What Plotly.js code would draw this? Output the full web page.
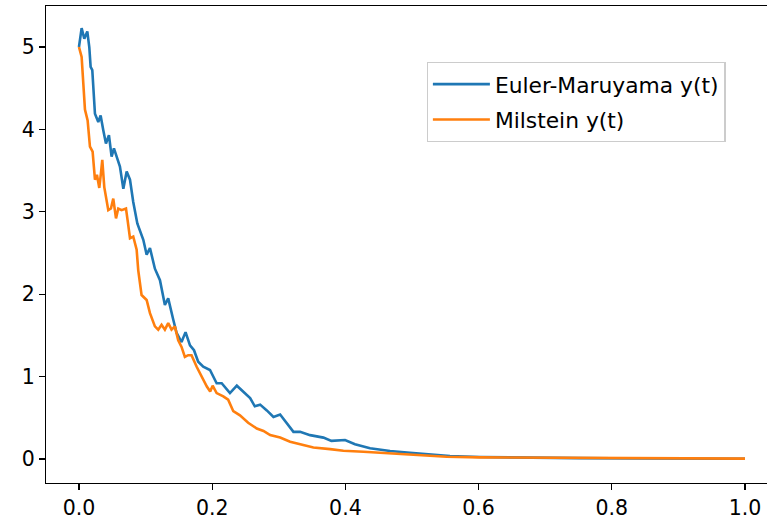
<!DOCTYPE html>
<html><head><meta charset="utf-8">
<script src="https://cdn.plot.ly/plotly-3.0.1.min.js"></script>
<style>html,body{margin:0;padding:0;background:#fff}#chart{width:767px;height:520px}</style>
</head><body><div id="chart"></div>
<script>
const tEM = [0,0.004,0.008,0.0125,0.0155,0.0175,0.02,0.0225,0.024,0.029,0.0325,0.0365,0.0405,0.045,0.049,0.0525,0.0575,0.0615,0.0666,0.0716,0.0766,0.0815,0.0876,0.0916,0.0966,0.1016,0.1066,0.114,0.1216,0.129,0.134,0.1416,0.1466,0.154,0.160,0.1667,0.1727,0.179,0.1866,0.1967,0.2067,0.2143,0.2267,0.237,0.249,0.257,0.264,0.272,0.282,0.292,0.302,0.314,0.322,0.332,0.347,0.367,0.379,0.3995,0.4144,0.437,0.467,0.497,0.527,0.557,0.602,0.677,0.75,0.85,1.0];
const yEM = [5.0,5.23,5.10,5.19,5.0,4.76,4.72,4.40,4.19,4.09,4.17,3.99,3.83,3.93,3.67,3.77,3.63,3.55,3.28,3.49,3.39,3.12,2.86,2.78,2.66,2.48,2.56,2.31,2.17,1.87,1.95,1.69,1.53,1.42,1.54,1.38,1.32,1.18,1.12,1.08,0.92,0.92,0.80,0.89,0.80,0.74,0.64,0.66,0.59,0.51,0.54,0.41,0.33,0.33,0.29,0.26,0.22,0.23,0.18,0.13,0.097,0.077,0.057,0.036,0.024,0.016,0.011,0.007,0.004];
const tMil = [0,0.004,0.0065,0.009,0.013,0.0165,0.0205,0.024,0.027,0.0305,0.033,0.035,0.038,0.0416,0.044,0.048,0.0515,0.0556,0.059,0.064,0.0706,0.073,0.0766,0.0815,0.0866,0.089,0.094,0.1016,0.1066,0.114,0.119,0.124,0.129,0.134,0.139,0.144,0.149,0.154,0.159,0.164,0.169,0.1767,0.184,0.192,0.197,0.2007,0.2067,0.2167,0.224,0.2317,0.2417,0.254,0.267,0.277,0.287,0.302,0.317,0.332,0.352,0.377,0.397,0.427,0.467,0.507,0.552,0.602,0.677,0.75,0.85,1.0];
const yMil = [5.0,4.88,4.56,4.24,4.11,3.79,3.73,3.39,3.45,3.29,3.47,3.63,3.30,3.10,3.02,3.04,3.16,2.92,3.04,3.02,3.04,2.90,2.68,2.70,2.54,2.29,1.99,1.93,1.77,1.61,1.57,1.63,1.57,1.65,1.57,1.61,1.44,1.36,1.24,1.26,1.26,1.12,1.00,0.88,0.82,0.89,0.80,0.76,0.72,0.58,0.53,0.44,0.37,0.34,0.29,0.26,0.21,0.18,0.14,0.12,0.10,0.089,0.069,0.049,0.028,0.02,0.016,0.012,0.008,0.005];
const seriesNames = ['Euler-Maruyama y(t)', 'Milstein y(t)'];
const xTicks = [0, 0.2, 0.4, 0.6, 0.8, 1.0];
const xTickText = ['0.0', '0.2', '0.4', '0.6', '0.8', '1.0'];
const yTicks = [0, 1, 2, 3, 4, 5];

const font = {family: 'DejaVu Sans, sans-serif', size: 20.5, color: '#000'};
const legFont = {family: 'DejaVu Sans, sans-serif', size: 21.8, color: '#000'};
const data = [
  {x: tEM, y: yEM, type: 'scatter', mode: 'lines', name: seriesNames[0], legendgroup: 'a', line: {color: '#1f77b4', width: 2.6}},
  {x: tMil, y: yMil, type: 'scatter', mode: 'lines', name: seriesNames[1], legendgroup: 'b', line: {color: '#ff7f0e', width: 2.6}}
];
const layout = {
  width: 767, height: 520,
  margin: {l: 46, r: 0, t: 6, b: 37, pad: 0},
  paper_bgcolor: '#fff', plot_bgcolor: '#fff',
  font: font,
  showlegend: true,
  xaxis: {
    range: [-0.0495, 1.033], tickvals: xTicks, ticktext: xTickText,
    showgrid: false, zeroline: false, showline: true, mirror: true, linecolor: '#000', linewidth: 1.2,
    ticks: 'outside', ticklen: 6, tickwidth: 1.2, tickcolor: '#000', tickfont: font
  },
  yaxis: {
    range: [-0.291, 5.498], tickvals: yTicks,
    showgrid: false, zeroline: false, showline: true, mirror: false, linecolor: '#000', linewidth: 1.2,
    ticks: 'outside', ticklen: 6, tickwidth: 1.2, tickcolor: '#000', tickfont: font
  },
  legend: {
    x: 0.528, y: 0.882, xanchor: 'left', yanchor: 'top',
    bgcolor: 'rgba(255,255,255,0.8)', bordercolor: '#cccccc', borderwidth: 1.2,
    font: legFont, traceorder: 'grouped', tracegroupgap: 4, itemwidth: 57
  }
};
Plotly.newPlot('chart', data, layout, {displayModeBar: false, staticPlot: true});
</script></body></html>
